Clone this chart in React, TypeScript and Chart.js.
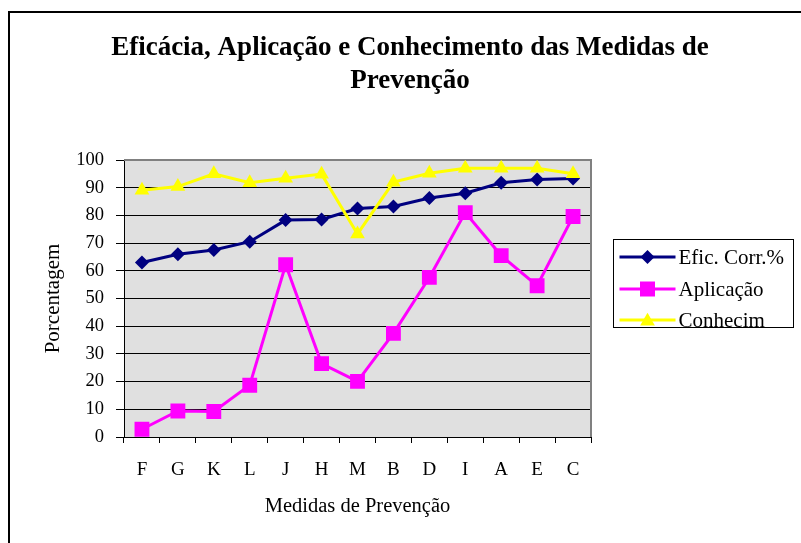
import React, { useEffect, useRef } from 'react';
import { Chart, registerables } from 'chart.js';

Chart.register(...registerables);

const categories = ['F', 'G', 'K', 'L', 'J', 'H', 'M', 'B', 'D', 'I', 'A', 'E', 'C'];
const eficCorr = [63, 66, 67.5, 70.5, 78.3, 78.5, 82.5, 83.2, 86.3, 88, 91.8, 93, 93.3];
const aplicacao = [2.8, 9.4, 9.2, 18.7, 62.2, 26.5, 20.1, 37.4, 57.6, 81, 65.5, 54.6, 79.6];
const conhecim = [89.1, 90.4, 95, 91.8, 93.4, 94.9, 73.3, 92, 95.2, 97, 97, 97, 95];
const seriesNames = ['Efic. Corr.%', 'Aplicação', 'Conhecim'];
const titleLines = ['Eficácia, Aplicação e Conhecimento das Medidas de', 'Prevenção'];
const xTitle = 'Medidas de Prevenção';
const yTitle = 'Porcentagem';
const yMin = 0;
const yMax = 100;
const yStep = 10;

const FONT = "'Liberation Serif', 'Times New Roman', serif";

function drawMarker(ctx: CanvasRenderingContext2D, style: string, x: number, y: number, color: string) {
  ctx.save();
  ctx.fillStyle = color;
  ctx.beginPath();
  if (style === 'rectRot') {
    const r = 7;
    ctx.moveTo(x - r, y);
    ctx.lineTo(x, y - r);
    ctx.lineTo(x + r, y);
    ctx.lineTo(x, y + r);
  } else if (style === 'rect') {
    const s = 7.5;
    ctx.rect(x - s, y - s, 2 * s, 2 * s);
  } else {
    const r = 8.5;
    ctx.moveTo(x, y - r * 0.85);
    ctx.lineTo(x + 0.866 * r, y + 0.65 * r);
    ctx.lineTo(x - 0.866 * r, y + 0.65 * r);
  }
  ctx.closePath();
  ctx.fill();
  ctx.restore();
}

const framePlugin = {
  id: 'frame',
  beforeDraw(chart: any) {
    const { ctx, chartArea } = chart;
    ctx.save();
    ctx.fillStyle = '#ffffff';
    ctx.fillRect(0, 0, chart.width, chart.height);
    ctx.fillStyle = '#e0e0e0';
    ctx.fillRect(chartArea.left, chartArea.top, chartArea.right - chartArea.left, chartArea.bottom - chartArea.top);
    ctx.restore();
  },
  beforeDatasetsDraw(chart: any) {
    const { ctx, chartArea } = chart;
    ctx.save();
    ctx.strokeStyle = '#808080';
    ctx.lineWidth = 2;
    ctx.beginPath();
    ctx.moveTo(chartArea.left, chartArea.top);
    ctx.lineTo(chartArea.right, chartArea.top);
    ctx.lineTo(chartArea.right, chartArea.bottom);
    ctx.stroke();
    ctx.restore();
  },
  afterDraw(chart: any) {
    const { ctx, chartArea } = chart;
    ctx.save();
    // outer chart border (top and left visible)
    ctx.strokeStyle = '#000';
    ctx.lineWidth = 2;
    ctx.beginPath();
    ctx.moveTo(9, chart.height);
    ctx.lineTo(9, 12);
    ctx.lineTo(chart.width, 12);
    ctx.stroke();

    // legend
    const bx = chartArea.right + 22.5;
    const by = 239.5;
    const bw = 180;
    const bh = 88;
    ctx.fillStyle = '#fff';
    ctx.fillRect(bx, by, bw, bh);
    ctx.strokeStyle = '#000';
    ctx.lineWidth = 1;
    ctx.strokeRect(bx, by, bw, bh);
    const rows = [257, 289, 320];
    chart.data.datasets.forEach((ds: any, i: number) => {
      const y = rows[i];
      ctx.strokeStyle = ds.borderColor;
      ctx.lineWidth = ds.borderWidth;
      ctx.beginPath();
      ctx.moveTo(bx + 6, y);
      ctx.lineTo(bx + 62, y);
      ctx.stroke();
      drawMarker(ctx, ds.pointStyle, bx + 34, y, ds.borderColor);
      ctx.fillStyle = '#000';
      ctx.font = `21px ${FONT}`;
      ctx.textBaseline = 'middle';
      ctx.textAlign = 'left';
      ctx.fillText(ds.label, bx + 65, y + 1);
    });
    ctx.restore();
  },
};

export default function App() {
  const ref = useRef<HTMLCanvasElement>(null);
  useEffect(() => {
    document.body.style.margin = '0';
    const canvas = ref.current!;
    const chart = new Chart(canvas, {
      type: 'line',
      data: {
        labels: categories,
        datasets: [
          {
            label: seriesNames[0],
            data: eficCorr,
            borderColor: '#000080',
            backgroundColor: '#000080',
            borderWidth: 3,
            pointStyle: 'rectRot',
            pointRadius: 7,
            pointBorderWidth: 0,
            order: 2,
          },
          {
            label: seriesNames[1],
            data: aplicacao,
            borderColor: '#ff00ff',
            backgroundColor: '#ff00ff',
            borderWidth: 3,
            pointStyle: 'rect',
            pointRadius: 10.5,
            pointBorderWidth: 0,
            order: 1,
          },
          {
            label: seriesNames[2],
            data: conhecim,
            borderColor: '#ffff00',
            backgroundColor: '#ffff00',
            borderWidth: 3,
            pointStyle: 'triangle',
            pointRadius: 8.5,
            pointBorderWidth: 0,
            order: 0,
          },
        ],
      },
      options: {
        responsive: false,
        animation: false,
        devicePixelRatio: 1,
        layout: { padding: { left: 19, right: 0, top: 0, bottom: 0 } },
        plugins: {
          legend: { display: false },
          tooltip: { enabled: false },
          title: {
            display: true,
            text: titleLines,
            color: '#000',
            font: { family: FONT, size: 27, weight: 'bold', lineHeight: 33 / 27 },
            padding: { top: 32, bottom: 62 },
          },
        },
        scales: {
          x: {
            offset: true,
            grid: { offset: true, drawOnChartArea: false, drawTicks: true, tickLength: 6, color: '#000' },
            border: { display: true, color: '#000', width: 1 },
            ticks: { color: '#000', font: { family: FONT, size: 19 }, padding: 16, maxRotation: 0, autoSkip: false },
            title: {
              display: true,
              text: xTitle,
              color: '#000',
              font: { family: FONT, size: 20.5, lineHeight: 1.2 },
              padding: { top: 0, bottom: 24 },
            },
            afterFit: (s: any) => {
              s.height = 106;
            },
          },
          y: {
            min: yMin,
            max: yMax,
            grid: { color: '#000', lineWidth: 1, drawTicks: true, tickLength: 8 },
            border: { display: true, color: '#000', width: 1 },
            ticks: { stepSize: yStep, color: '#000', font: { family: FONT, size: 18.5 }, padding: 12 },
            title: {
              display: true,
              text: yTitle,
              color: '#000',
              font: { family: FONT, size: 21, lineHeight: 1.2 },
              padding: { top: 22, bottom: 0 },
            },
            afterFit: (s: any) => {
              s.width = 105;
            },
          },
          legendSpace: {
            type: 'linear',
            position: 'right',
            display: true,
            grid: { display: false, drawTicks: false },
            border: { display: false },
            ticks: { display: false },
            afterFit: (s: any) => {
              s.width = 210;
            },
          },
        },
      },
      plugins: [framePlugin],
    });
    return () => chart.destroy();
  }, []);
  return (
    <div style={{ width: 801, height: 543 }}>
      <canvas ref={ref} width={801} height={543} style={{ display: 'block', width: 801, height: 543 }} />
    </div>
  );
}
